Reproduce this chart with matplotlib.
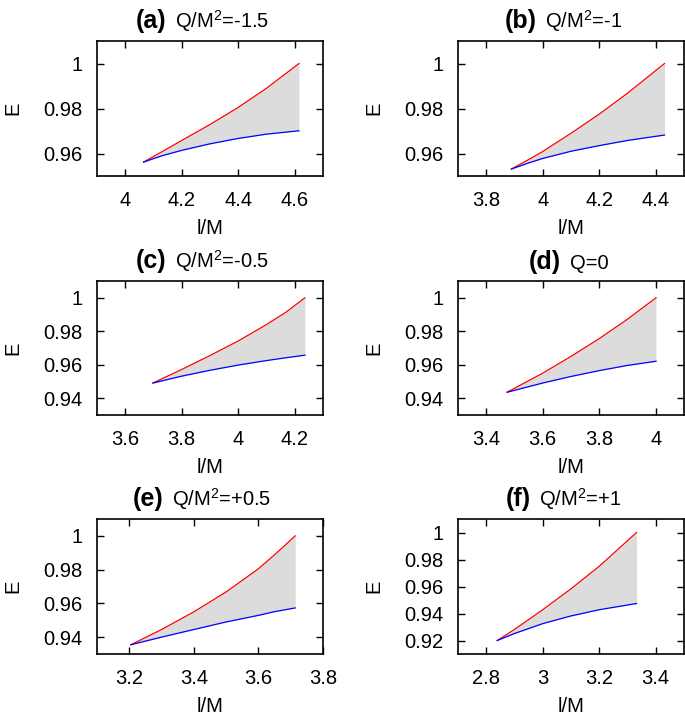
import matplotlib
matplotlib.use('Agg')
import matplotlib.pyplot as plt
from matplotlib.offsetbox import TextArea, HPacker, AnchoredOffsetbox
from matplotlib.ticker import FuncFormatter

plt.rcParams['font.family'] = 'Liberation Sans'
plt.rcParams['mathtext.fontset'] = 'custom'
plt.rcParams['mathtext.rm'] = 'Liberation Sans'

## Data: l/M on x, E of the upper (red) and lower (blue) branch
# (a) Q/M^2 = -1.5
lm_a    = [4.065, 4.13, 4.2, 4.3, 4.4, 4.5, 4.615]
eup_a   = [0.9562, 0.9608, 0.9658, 0.9729, 0.9805, 0.9890, 1.0]
elow_a  = [0.9562, 0.9590, 0.9614, 0.9643, 0.9667, 0.9686, 0.9701]
# (b) Q/M^2 = -1
lm_b    = [3.889, 3.95, 4.0, 4.1, 4.2, 4.3, 4.431]
eup_b   = [0.9531, 0.9573, 0.9609, 0.9690, 0.9775, 0.9868, 1.0]
elow_b  = [0.9531, 0.9558, 0.9578, 0.9610, 0.9635, 0.9658, 0.9682]
# (c) Q/M^2 = -0.5
lm_c    = [3.698, 3.8, 3.9, 4.0, 4.1, 4.17, 4.236]
eup_c   = [0.9491, 0.9572, 0.9655, 0.9742, 0.9840, 0.9915, 1.0]
elow_c  = [0.9491, 0.9532, 0.9567, 0.9598, 0.9625, 0.9642, 0.9657]
# (d) Q = 0
lm_d    = [3.474, 3.6, 3.7, 3.8, 3.9, 4.001]
eup_d   = [0.9436, 0.9550, 0.9650, 0.9756, 0.9872, 1.0]
elow_d  = [0.9436, 0.9491, 0.9530, 0.9565, 0.9596, 0.9621]
# (e) Q/M^2 = +0.5
lm_e    = [3.205, 3.3, 3.4, 3.5, 3.6, 3.65, 3.714]
eup_e   = [0.9355, 0.9445, 0.9550, 0.9668, 0.9805, 0.9888, 1.0]
elow_e  = [0.9355, 0.9400, 0.9445, 0.9490, 0.9529, 0.9551, 0.9573]
# (f) Q/M^2 = +1
lm_f    = [2.839, 2.9, 3.0, 3.1, 3.2, 3.332]
eup_f   = [0.92, 0.9282, 0.9428, 0.9583, 0.9750, 1.0]
elow_f  = [0.92, 0.9252, 0.9325, 0.9382, 0.9428, 0.9474]

tags   = ['(a)', '(b)', '(c)', '(d)', '(e)', '(f)']
qtexts = ['Q/M$^{\\mathrm{2}}$=-1.5', 'Q/M$^{\\mathrm{2}}$=-1',
          'Q/M$^{\\mathrm{2}}$=-0.5', 'Q=0',
          'Q/M$^{\\mathrm{2}}$=+0.5', 'Q/M$^{\\mathrm{2}}$=+1']
lms   = [lm_a, lm_b, lm_c, lm_d, lm_e, lm_f]
eups  = [eup_a, eup_b, eup_c, eup_d, eup_e, eup_f]
elows = [elow_a, elow_b, elow_c, elow_d, elow_e, elow_f]

xlims = [(3.9, 4.7), (3.7, 4.5), (3.5, 4.3), (3.3, 4.1), (3.1, 3.8), (2.7, 3.5)]
ylims = [(0.95, 1.01), (0.95, 1.01), (0.93, 1.01), (0.93, 1.01), (0.93, 1.01), (0.91, 1.01)]
xticks = [[4, 4.2, 4.4, 4.6], [3.8, 4, 4.2, 4.4], [3.6, 3.8, 4, 4.2],
          [3.4, 3.6, 3.8, 4], [3.2, 3.4, 3.6, 3.8], [2.8, 3, 3.2, 3.4]]
yticks = [[0.96, 0.98, 1], [0.96, 0.98, 1], [0.94, 0.96, 0.98, 1],
          [0.94, 0.96, 0.98, 1], [0.94, 0.96, 0.98, 1], [0.92, 0.94, 0.96, 0.98, 1]]

## Layout (figure fractions)
W, H = 685, 718
lefts = [97/W, 458/W]
width = 226/W
rows = [(41, 176), (281, 415), (519, 654)]
title_shift = [-0.035, -0.035, -0.035, -0.01, -0.035, -0.035]
fs = 14.5

fmt = FuncFormatter(lambda v, p: '%g' % round(v, 4))

fig = plt.figure(figsize=(W/100, H/100), dpi=100)
for i in range(6):
    top, bot = rows[i // 2]
    ax = fig.add_axes([lefts[i % 2], 1 - bot/H, width, (bot - top)/H])

    ax.fill_between(lms[i], elows[i], eups[i], color='#dcdcdc', linewidth=0)
    ax.plot(lms[i], eups[i], color='red', linewidth=0.9)
    ax.plot(lms[i], elows[i], color='blue', linewidth=0.9)

    ax.set_xlim(xlims[i])
    ax.set_ylim(ylims[i])
    ax.set_xticks(xticks[i])
    ax.set_yticks(yticks[i])
    ax.xaxis.set_major_formatter(fmt)
    ax.yaxis.set_major_formatter(fmt)
    ax.tick_params(direction='in', length=5, width=1.0, top=True, right=True,
                   labelsize=fs)
    ax.tick_params(axis='x', pad=10.5)
    ax.tick_params(axis='y', pad=10.5)
    for sp in ax.spines.values():
        sp.set_linewidth(1.2)
    ax.set_xlabel('l/M', fontsize=fs, labelpad=7)
    ax.set_ylabel('E', fontsize=fs, labelpad=15)

    # title: bold panel tag followed by the charge value
    t1 = TextArea(tags[i], textprops=dict(fontsize=18, fontweight='bold'))
    t2 = TextArea(qtexts[i], textprops=dict(fontsize=fs))
    box = HPacker(children=[t1, t2], align='baseline', pad=0, sep=6)
    anc = AnchoredOffsetbox(loc='lower center', child=box, pad=0, borderpad=0,
                            frameon=False, bbox_to_anchor=(0.5 + title_shift[i], 1.05),
                            bbox_transform=ax.transAxes)
    ax.add_artist(anc)

fig.savefig('out.png', dpi=100)
